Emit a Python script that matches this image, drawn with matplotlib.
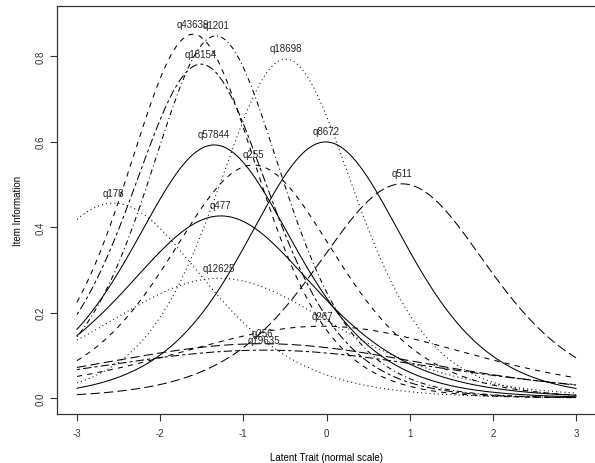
import numpy as np
import matplotlib
matplotlib.use("Agg")
import matplotlib.pyplot as plt

plt.rcParams['font.family'] = ['Liberation Sans', 'DejaVu Sans']

# Item parameters: location of peak (difficulty) and peak information
items = ["q43639", "q1201", "q18154", "q18698", "q57844", "q255", "q8672",
         "q178", "q477", "q511", "q12625", "q256", "q19635", "q267"]
peak_loc = [-1.605, -1.33, -1.51, -0.49, -1.35, -0.88, -0.01,
            -2.56, -1.27, 0.91, -1.29, -0.77, -0.75, -0.05]
peak_info = [0.851, 0.847, 0.781, 0.793, 0.592, 0.545, 0.599,
             0.456, 0.426, 0.501, 0.280, 0.127, 0.112, 0.168]
styles = ["dashed", "dotdash", "twodash", "dotted", "solid", "dashed", "solid",
          "dotted", "solid", "longdash", "dotted", "longdash", "twodash", "dashed"]

x_ticks = [-3, -2, -1, 0, 1, 2, 3]
y_ticks = [0.0, 0.2, 0.4, 0.6, 0.8]

dash_map = {
    "solid": "-",
    "dashed": (0, (5, 5)),
    "dotted": (0, (1, 3)),
    "dotdash": (0, (1, 3, 5, 3)),
    "longdash": (0, (9, 4)),
    "twodash": (0, (3, 3, 8, 3)),
}

fig = plt.figure(figsize=(5.95, 4.64), dpi=100)
W, H = 595, 464
left, right, top, bottom = 57, 596, 7, 415
ax = fig.add_axes([left / W, 1 - bottom / H, (right - left) / W, (bottom - top) / H])

theta = np.linspace(-3, 3, 400)
for name, b, h, st in zip(items, peak_loc, peak_info, styles):
    a = 2 * np.sqrt(h)
    p = 1 / (1 + np.exp(-a * (theta - b)))
    info = a * a * p * (1 - p)
    ax.plot(theta, info, color="black", lw=0.75, linestyle=dash_map[st])
    ax.annotate(name, (b, h), xytext=(0, 4), textcoords="offset points",
                ha="center", va="bottom", fontsize=7, color="#222222")

ax.set_xlim(-3.24, 3.24)
ax.set_ylim(-0.0374, 0.917)
ax.set_xticks(x_ticks)
ax.set_xticklabels([str(t) for t in x_ticks])
ax.set_yticks(y_ticks)
ax.set_yticklabels(["%.1f" % t for t in y_ticks], rotation=90, va="center")
ax.tick_params(direction="out", length=5, width=0.8, labelsize=7, colors="#333333")
ax.tick_params(axis="x", pad=5)
ax.tick_params(axis="y", pad=3)
for s in ax.spines.values():
    s.set_linewidth(0.9)
    s.set_color("#333333")
ax.set_xlabel("Latent Trait (normal scale)", fontsize=7, labelpad=10)
ax.set_ylabel("Item Information", fontsize=7, labelpad=9)

fig.savefig("out.png", dpi=100)
